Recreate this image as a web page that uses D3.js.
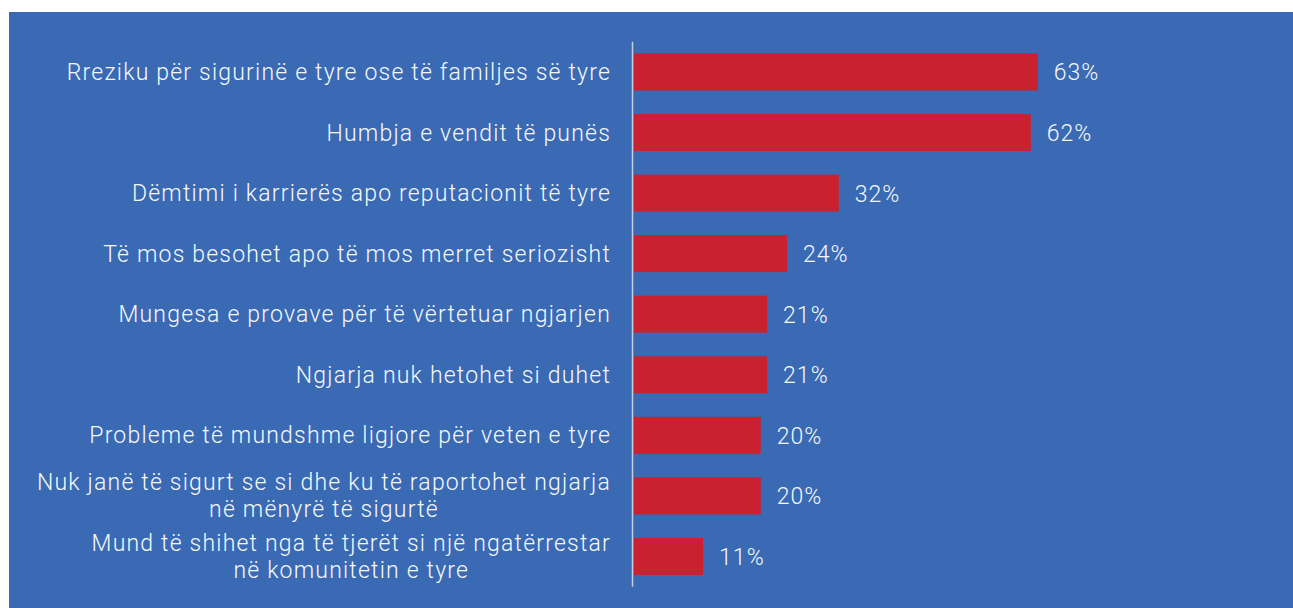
<!DOCTYPE html>
<html>
<head>
<meta charset="utf-8">
<script src="https://cdn.jsdelivr.net/npm/d3@7"></script>
<style>
  body { margin: 0; background: #fff; }
  #plot text { font-family: Roboto, "Open Sans", sans-serif; font-weight: 300; fill: #f6f8fc; }
</style>
</head>
<body>
<div id="plot"></div>
<script>
// category labels, already split into lines as in the original
var categories = [
    ["Rreziku për sigurinë e tyre ose të familjes së tyre"],
    ["Humbja e vendit të punës"],
    ["Dëmtimi i karrierës apo reputacionit të tyre"],
    ["Të mos besohet apo të mos merret seriozisht"],
    ["Mungesa e provave për të vërtetuar ngjarjen"],
    ["Ngjarja nuk hetohet si duhet"],
    ["Probleme të mundshme ligjore për veten e tyre"],
    ["Nuk janë të sigurt se si dhe ku të raportohet ngjarja", "në mënyrë të sigurtë"],
    ["Mund të shihet nga të tjerët si një ngatërrestar", "në komunitetin e tyre"]
];
// shares in % (labels are rounded)
var values = [63.1, 62.0, 32.0, 23.9, 20.8, 20.8, 19.8, 19.8, 10.8];

var width = 1293,
    height = 608;

var svg = d3.select("#plot").append("svg")
    .attr("width", width)
    .attr("height", height);

// blue panel
svg.append("rect")
    .attr("x", 9).attr("y", 12)
    .attr("width", width - 9).attr("height", height - 12)
    .style("fill", "#3a6ab3");

var data = values.map(function(v, i) { return {key: i, label: categories[i], value: v}; });

var x = d3.scaleLinear().domain([0, 100]).range([634, 634 + 640]);
var y = d3.scaleBand()
    .domain(data.map(function(d) { return d.key; }))
    .range([41.7, 586.7])
    .paddingInner(0.39)
    .paddingOuter(0.195);

// bars
svg.selectAll(".bar")
    .data(data)
    .enter().append("rect")
    .attr("class", "bar")
    .attr("x", x(0))
    .attr("y", function(d) { return y(d.key); })
    .attr("width", function(d) { return x(d.value) - x(0); })
    .attr("height", y.bandwidth())
    .style("fill", "#c9212f");

// axis line
var yAxis = d3.axisLeft(y).tickSize(0).tickFormat("");
svg.append("g")
    .attr("class", "y axis")
    .attr("transform", "translate(632.5,0)")
    .call(yAxis)
    .select(".domain")
    .attr("d", "M0," + y.range()[0] + "V" + y.range()[1])
    .style("stroke", "#c5cde0")
    .style("stroke-width", 1.5);

// value labels
var fmt = d3.format(".0f");
svg.selectAll(".val")
    .data(data)
    .enter().append("text")
    .attr("class", "val")
    .attr("x", function(d) { return x(d.value) + 16; })
    .attr("y", function(d) { return y(d.key) + y.bandwidth() / 2 + 8.5; })
    .style("font-size", "23px")
    .style("letter-spacing", "1px")
    .text(function(d) { return fmt(d.value) + "%"; });

// category labels: block right-aligned at 611, lines centred inside it
var lineH = 27;
svg.selectAll(".cat")
    .data(data)
    .enter().append("text")
    .attr("class", "cat")
    .style("font-size", "23px")
    .style("letter-spacing", "1.2px")
    .each(function(d) {
        var t = d3.select(this);
        var cy = y(d.key) + y.bandwidth() / 2;
        var n = d.label.length;
        var spans = t.selectAll("tspan")
            .data(d.label)
            .enter().append("tspan")
            .attr("y", function(s, i) { return cy + 8 + (i - (n - 1) / 2) * lineH; })
            .text(function(s) { return s; });
        var w = d3.max(spans.nodes(), function(s) { return s.getComputedTextLength(); });
        spans.attr("text-anchor", "middle").attr("x", 611 - w / 2);
    });
</script>
</body>
</html>
